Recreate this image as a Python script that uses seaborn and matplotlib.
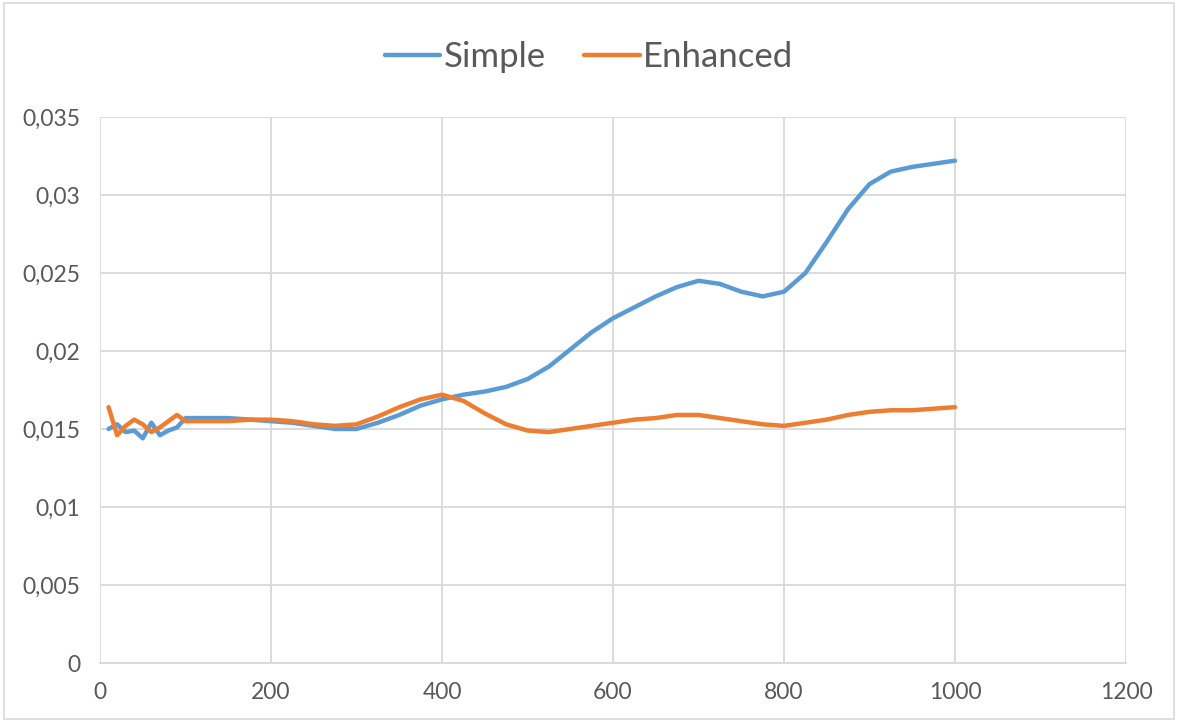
import numpy as np
import pandas as pd
import seaborn as sns
import matplotlib.pyplot as plt
from matplotlib.patches import Rectangle
from matplotlib.ticker import FuncFormatter

# x positions
x_vals = [10, 20, 30, 40, 50, 60, 70, 80, 90,
          100, 125, 150, 175, 200, 225, 250, 275, 300, 325, 350, 375,
          400, 425, 450, 475, 500, 525, 550, 575, 600, 625, 650, 675,
          700, 725, 750, 775, 800, 825, 850, 875, 900, 925, 950, 975, 1000]

simple = [0.0150, 0.0153, 0.0148, 0.0149, 0.0144, 0.0154, 0.0146, 0.0149, 0.0151,
          0.0157, 0.0157, 0.0157, 0.0156, 0.0155, 0.0154, 0.0152, 0.0150, 0.0150,
          0.0154, 0.0159, 0.0165,
          0.0169, 0.0172, 0.0174, 0.0177, 0.0182, 0.0190, 0.0201, 0.0212, 0.0221,
          0.0228, 0.0235, 0.0241,
          0.0245, 0.0243, 0.0238, 0.0235, 0.0238, 0.0250, 0.0270, 0.0291, 0.0307,
          0.0315, 0.0318, 0.0320, 0.0322]

enhanced = [0.0164, 0.0146, 0.0152, 0.0156, 0.0153, 0.0148, 0.0151, 0.0155, 0.0159,
            0.0155, 0.0155, 0.0155, 0.0156, 0.0156, 0.0155, 0.0153, 0.0152, 0.0153,
            0.0158, 0.0164, 0.0169,
            0.0172, 0.0168, 0.0160, 0.0153, 0.0149, 0.0148, 0.0150, 0.0152, 0.0154,
            0.0156, 0.0157, 0.0159,
            0.0159, 0.0157, 0.0155, 0.0153, 0.0152, 0.0154, 0.0156, 0.0159, 0.0161,
            0.0162, 0.0162, 0.0163, 0.0164]

series_names = ['Simple', 'Enhanced']
colors = ['#5B9BD5', '#ED7D31']

df = pd.DataFrame({'x': x_vals, 'Simple': simple, 'Enhanced': enhanced})
long_df = df.melt(id_vars='x', var_name='series', value_name='value')

sns.set_style('white')
plt.rcParams['font.family'] = ['Lato', 'DejaVu Sans']

fig = plt.figure(figsize=(11.78, 7.22), dpi=100)
ax = fig.add_axes([0.0849, 0.0817, 0.871, 0.7563])

sns.lineplot(data=long_df, x='x', y='value', hue='series', hue_order=series_names,
             palette=colors, linewidth=3.2, sort=False, ax=ax, legend=False,
             solid_joinstyle='round', solid_capstyle='round')

ax.set_xlim(0, 1200)
ax.set_ylim(0, 0.035)
ax.set_xticks(np.arange(0, 1201, 200))
ax.set_yticks(np.arange(0, 0.0351, 0.005))
ax.yaxis.set_major_formatter(FuncFormatter(
    lambda v, p: '0' if abs(v) < 1e-9 else ('%g' % round(v, 3)).replace('.', ',')))
ax.set_xlabel('')
ax.set_ylabel('')
ax.grid(True, color='#D9D9D9', linewidth=1.3)
ax.set_axisbelow(True)
for s in ['top', 'right', 'left']:
    ax.spines[s].set_visible(False)
ax.spines['bottom'].set_color('#D9D9D9')
ax.spines['bottom'].set_linewidth(1.3)
ax.tick_params(axis='both', length=0, labelsize=16.5, colors='#595959')
ax.tick_params(axis='y', pad=14)
ax.tick_params(axis='x', pad=14)

# legend at the top
handles = [plt.Line2D([], [], color=c, linewidth=3.2) for c in colors]
fig.legend(handles, series_names, loc='center', bbox_to_anchor=(0.5, 0.921),
           ncol=2, frameon=False, fontsize=25, handlelength=1.6,
           handletextpad=0.1, columnspacing=1.1, labelcolor='#595959')

# chart border
fig.patches.append(Rectangle((0.003, 0.004), 0.994, 0.992, transform=fig.transFigure,
                             fill=False, edgecolor='#D9D9D9', linewidth=1.2))

fig.savefig('out.png', dpi=100)
